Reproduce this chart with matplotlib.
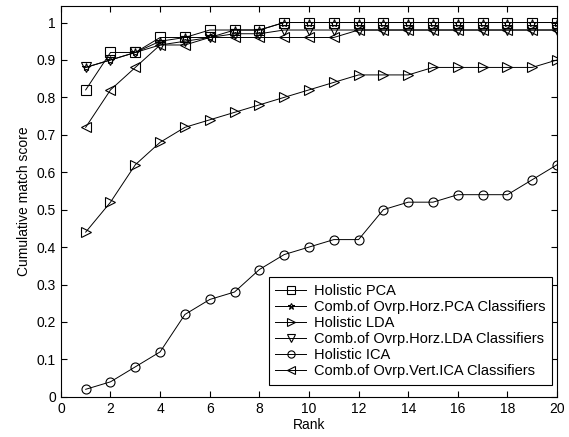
import numpy as np
import matplotlib
matplotlib.use('Agg')
import matplotlib.pyplot as plt

# ====================== DATA ======================
rank = list(range(1, 21))

holistic_pca = [0.82, 0.92, 0.92, 0.96, 0.96, 0.98, 0.98, 0.98, 1.00, 1.00,
                1.00, 1.00, 1.00, 1.00, 1.00, 1.00, 1.00, 1.00, 1.00, 1.00]
comb_horz_pca = [0.88, 0.90, 0.92, 0.95, 0.96, 0.96, 0.98, 0.98, 1.00, 1.00,
                 1.00, 1.00, 1.00, 1.00, 1.00, 1.00, 1.00, 1.00, 1.00, 1.00]
holistic_lda = [0.44, 0.52, 0.62, 0.68, 0.72, 0.74, 0.76, 0.78, 0.80, 0.82,
                0.84, 0.86, 0.86, 0.86, 0.88, 0.88, 0.88, 0.88, 0.88, 0.90]
comb_horz_lda = [0.88, 0.90, 0.92, 0.94, 0.95, 0.96, 0.97, 0.97, 0.98, 0.98,
                 0.98, 0.98, 0.98, 0.98, 0.98, 0.98, 0.98, 0.98, 0.98, 0.98]
holistic_ica = [0.02, 0.04, 0.08, 0.12, 0.22, 0.26, 0.28, 0.34, 0.38, 0.40,
                0.42, 0.42, 0.50, 0.52, 0.52, 0.54, 0.54, 0.54, 0.58, 0.62]
comb_vert_ica = [0.72, 0.82, 0.88, 0.94, 0.94, 0.96, 0.96, 0.96, 0.96, 0.96,
                 0.96, 0.98, 0.98, 0.98, 0.98, 0.98, 0.98, 0.98, 0.98, 0.98]

series = [
    ("Holistic PCA", holistic_pca, 's'),
    ("Comb.of Ovrp.Horz.PCA Classifiers", comb_horz_pca, '*'),
    ("Holistic LDA", holistic_lda, '>'),
    ("Comb.of Ovrp.Horz.LDA Classifiers", comb_horz_lda, 'v'),
    ("Holistic ICA", holistic_ica, 'o'),
    ("Comb.of Ovrp.Vert.ICA Classifiers", comb_vert_ica, '<'),
]

# ====================== PLOT ======================
plt.rcParams['font.family'] = ['Liberation Sans', 'DejaVu Sans']
fig = plt.figure(figsize=(5.69, 4.37), dpi=100)
ax = fig.add_axes([0.107, 0.092, 0.872, 0.895])

for label, vals, mk in series:
    ax.plot(rank, vals, color='black', linewidth=0.7, marker=mk,
            markersize=6.5 if mk != '*' else 6, markerfacecolor='none',
            markeredgecolor='black', markeredgewidth=0.8, label=label)

ax.set_xlim(0, 20)
ax.set_ylim(0, 1.045)
ax.set_xticks(np.arange(0, 21, 2))
ax.set_yticks(np.arange(0, 1.01, 0.1))
ax.set_yticklabels(['0', '0.1', '0.2', '0.3', '0.4', '0.5', '0.6', '0.7', '0.8', '0.9', '1'])
ax.tick_params(direction='in', top=True, right=True, labelsize=10, length=4, width=0.8)
ax.set_xlabel("Rank", fontsize=10, labelpad=2)
ax.set_ylabel("Cumulative match score", fontsize=10, labelpad=4)
for sp in ax.spines.values():
    sp.set_linewidth(0.8)

leg = ax.legend(loc='lower right', bbox_to_anchor=(0.99, 0.031), fontsize=10.5,
                fancybox=False, framealpha=1, edgecolor='black',
                handlelength=2.1, handletextpad=0.55, markerscale=0.8,
                labelspacing=0.14, borderpad=0.45, borderaxespad=0.0)
leg.get_frame().set_linewidth(0.8)

fig.savefig("out.png", dpi=100)
